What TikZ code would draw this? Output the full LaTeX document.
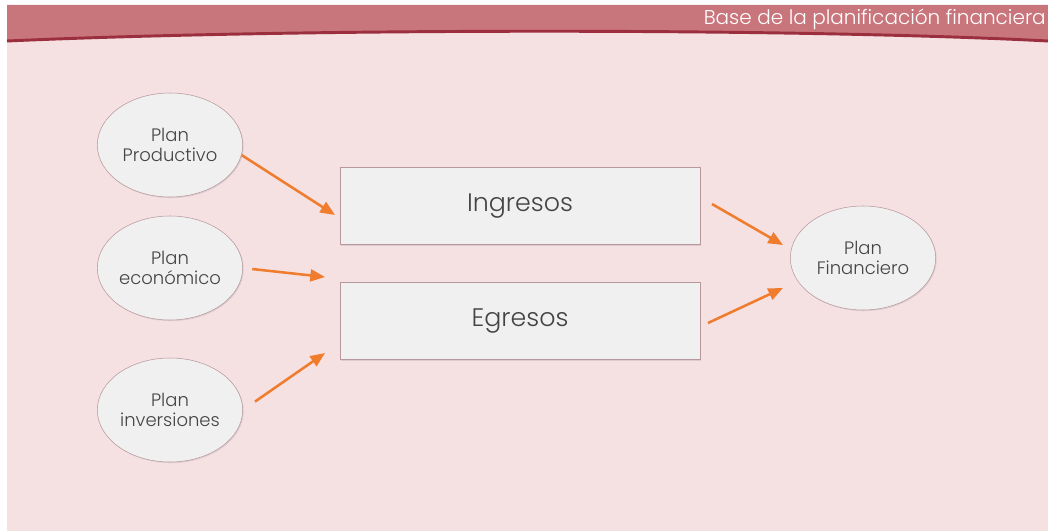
\documentclass[tikz,border=0pt]{standalone}
\usepackage{fontspec}
\setmainfont{Poppins}[UprightFont=* Light]
\usetikzlibrary{arrows.meta,shapes.geometric,shadows}
\definecolor{fondo}{HTML}{F5E0E2}
\definecolor{banda}{HTML}{C9757C}
\definecolor{linea}{HTML}{9B2F3E}
\definecolor{relleno}{HTML}{F0F0F0}
\definecolor{borde}{HTML}{B8989E}
\definecolor{texto}{HTML}{444444}
\definecolor{flecha}{HTML}{F07D2E}
\begin{document}
\begin{tikzpicture}[x=0.75pt,y=-0.75pt,
    plan/.style={draw=borde, fill=relleno, ellipse, minimum width=109pt, minimum height=78pt,
      align=center, text=texto, font=\fontsize{13.5}{15}\selectfont, inner sep=0pt,
      drop shadow={opacity=0.2, shadow xshift=0.8pt, shadow yshift=-0.8pt}},
    caja/.style={draw=borde, fill=relleno, minimum width=270pt, minimum height=58pt,
      text=texto, font=\fontsize{19}{22}\selectfont,
      drop shadow={opacity=0.2, shadow xshift=0.8pt, shadow yshift=-0.8pt}},
    flujo/.style={draw=flecha, line width=1.9pt, -{Triangle[length=11pt,width=9pt]}}]
  \useasboundingbox (0,0) rectangle (1048,531);
  % Fondo
  \fill[white] (0,0) rectangle (1048,531);
  \fill[fondo] (7,5) rectangle (1048,531);
  \fill[banda] (7,5) -- (1048,5) -- (1048,41) .. controls (800,28) and (300,28) .. (7,41) -- cycle;
  \draw[linea, line width=2.2pt] (7,41) .. controls (300,28) and (800,28) .. (1048,41);
  \node[anchor=east, text=white, font=\fontsize{15}{18}\selectfont, inner sep=0pt] (titulo) at (1046,19) {Base de la planificación financiera};

  % Nodos
  \node[plan] (pp) at (170,145) {Plan\\Productivo};
  \node[plan] (pe) at (170,268) {Plan\\económico};
  \node[plan] (pi) at (170,410) {Plan\\inversiones};
  \node[caja] (ing) at (520,206) {Ingresos};
  \node[caja] (egr) at (520,321) {Egresos};
  \node[plan] (pf) at (863,258) {Plan\\Financiero};
  \coordinate (e1) at (335,215);
  \coordinate (e2) at (325,277);
  \coordinate (e3) at (325,353);
  \coordinate (s4) at (712,204);
  \coordinate (s5) at (708,323);
  \coordinate (f4) at (783,245);
  \coordinate (f5) at (783,288);

  % Flechas
  \draw[flujo] (pp.-8) -- (e1);
  \draw[flujo, shorten <=7pt] (pe.east) -- (e2);
  \draw[flujo, shorten <=11pt] (pi.east) -- (e3);
  \draw[flujo] (s4) -- (f4);
  \draw[flujo] (s5) -- (f5);
\end{tikzpicture}
\end{document}
